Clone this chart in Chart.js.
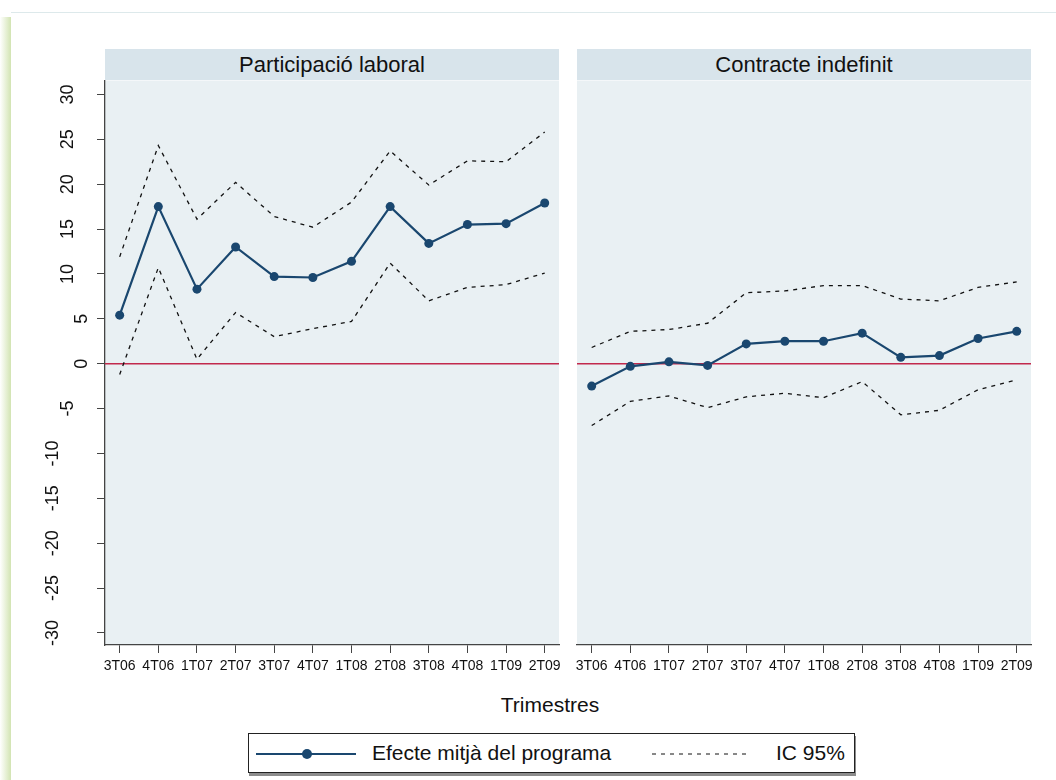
<!DOCTYPE html>
<html lang="ca">
  <head>
    <meta charset="UTF-8" />
    <title>Efecte mitjà del programa</title>
    <script src="https://cdn.jsdelivr.net/npm/chart.js@4.4.0/dist/chart.umd.min.js"></script>
    <style>
      body { margin: 0; background: #fff; font-family: "Liberation Sans", Arial, sans-serif; color: #111; }
      #page { position: relative; width: 1056px; height: 780px; overflow: hidden; }
      .frame { position: absolute; left: 11px; top: 12px; right: 0; bottom: 0; border-top: 1px solid #dde9eb; }
      .shadow { position: absolute; left: 0; top: 17px; width: 11px; bottom: 0;
        background: linear-gradient(to right, rgba(255,255,255,0), rgba(205,225,170,0.9)); }
      .strip { position: absolute; top: 49px; height: 31px; line-height: 31px; background: #d8e4eb;
        text-align: center; font-size: 22px; }
      canvas { position: absolute; }
      .xtitle { position: absolute; left: 450px; width: 200px; top: 693px; text-align: center; font-size: 21px; }
      .legend { position: absolute; left: 248px; top: 733px; width: 605px; height: 38px;
        border: 1px solid #222; box-shadow: 1px 3px 0 #8c8c8c; background: #fff; }
      .legend svg { position: absolute; top: 0; }
      .legend span { position: absolute; top: 7px; font-size: 21px; }
    </style>
  </head>
  <body>
    <div id="page">
      <div class="frame"></div>
      <div class="shadow"></div>
      <div class="strip" style="left:105px;width:454px">Participació laboral</div>
      <div class="strip" style="left:577px;width:454px">Contracte indefinit</div>
      <canvas id="left" width="575" height="604" style="left:0;top:76px"></canvas>
      <canvas id="right" width="495" height="604" style="left:561px;top:76px"></canvas>
      <div class="xtitle">Trimestres</div>
      <div class="legend">
        <svg width="120" height="38" style="left:7px">
          <line x1="0" y1="20" x2="100" y2="20" stroke="#1a476f" stroke-width="2.2" />
          <circle cx="51" cy="20" r="5" fill="#1a476f" />
        </svg>
        <span style="left:123px">Efecte mitjà del programa</span>
        <svg width="100" height="38" style="left:403px">
          <line x1="0" y1="20" x2="96" y2="20" stroke="#111" stroke-width="1" stroke-dasharray="4,5" />
        </svg>
        <span style="left:527px">IC 95%</span>
      </div>
    </div>
    <script>
      // trimestres
      const quarters = ["3T06", "4T06", "1T07", "2T07", "3T07", "4T07", "1T08", "2T08", "3T08", "4T08", "1T09", "2T09"];
      const yTicks = [-30, -25, -20, -15, -10, -5, 0, 5, 10, 15, 20, 25, 30];

      // Participació laboral
      const laboral = [5.4, 17.5, 8.3, 13.0, 9.7, 9.6, 11.4, 17.5, 13.4, 15.5, 15.6, 17.9];
      const laboralHi = [11.9, 24.3, 16.1, 20.2, 16.4, 15.2, 18.0, 23.7, 19.9, 22.6, 22.5, 25.8];
      const laboralLo = [-1.2, 10.7, 0.5, 5.7, 3.0, 3.9, 4.7, 11.2, 7.0, 8.5, 8.8, 10.1];

      // Contracte indefinit
      const indefinit = [-2.5, -0.3, 0.2, -0.2, 2.2, 2.5, 2.5, 3.4, 0.7, 0.9, 2.8, 3.6];
      const indefinitHi = [1.8, 3.6, 3.8, 4.5, 7.9, 8.1, 8.7, 8.7, 7.2, 7.0, 8.5, 9.1];
      const indefinitLo = [-6.9, -4.2, -3.6, -4.9, -3.7, -3.3, -3.8, -2.0, -5.7, -5.2, -2.9, -1.8];

      const navy = "#1a476f";
      const font = "Liberation Sans";

      function pts(vals) {
        return vals.map((v, i) => ({ x: i, y: v }));
      }

      // background of the plot region + red line at zero
      const panelBg = {
        id: "panelBg",
        beforeDraw(chart) {
          const { ctx, chartArea: a } = chart;
          ctx.save();
          ctx.fillStyle = "#e9f0f3";
          ctx.fillRect(a.left, a.top, a.right - a.left, a.bottom - a.top);
          ctx.restore();
        },
        beforeDatasetsDraw(chart) {
          const { ctx, chartArea: a } = chart;
          const y0 = chart.scales.y.getPixelForValue(0);
          ctx.save();
          ctx.strokeStyle = "#c2294c";
          ctx.lineWidth = 1.5;
          ctx.beginPath();
          ctx.moveTo(a.left, y0);
          ctx.lineTo(a.right, y0);
          ctx.stroke();
          ctx.restore();
        },
      };

      // vertical y labels, like the stata export
      const yLabels = {
        id: "yLabels",
        afterDraw(chart) {
          const s = chart.scales.y;
          if (!s.options.display) return;
          const ctx = chart.ctx;
          ctx.save();
          ctx.font = "18px " + font;
          ctx.fillStyle = "#111";
          ctx.textAlign = "center";
          ctx.textBaseline = "middle";
          s.ticks.forEach((t) => {
            const label = String(t.value);
            const x = 97 - 14.5 * label.length;
            ctx.save();
            ctx.translate(x, s.getPixelForValue(t.value));
            ctx.rotate(-Math.PI / 2);
            ctx.fillText(label, 0, 0);
            ctx.restore();
          });
          ctx.restore();
        },
      };

      function makeChart(id, mid, hi, lo, showY, pad) {
        const ctx = document.getElementById(id).getContext("2d");
        return new Chart(ctx, {
          type: "line",
          data: {
            datasets: [
              { data: pts(hi), borderColor: "#111", borderWidth: 1.3, borderDash: [4, 5], pointRadius: 0, fill: false },
              { data: pts(lo), borderColor: "#111", borderWidth: 1.3, borderDash: [4, 5], pointRadius: 0, fill: false },
              {
                data: pts(mid),
                borderColor: navy,
                borderWidth: 2.2,
                pointRadius: 4.5,
                pointBackgroundColor: navy,
                pointBorderWidth: 0,
                fill: false,
              },
            ],
          },
          options: {
            responsive: false,
            animation: false,
            devicePixelRatio: 1,
            layout: { padding: pad },
            plugins: { legend: { display: false }, tooltip: { enabled: false } },
            scales: {
              x: {
                type: "linear",
                min: -0.38,
                max: 11.37,
                afterBuildTicks: (s) => {
                  s.ticks = quarters.map((q, i) => ({ value: i }));
                },
                afterFit: (s) => {
                  s.height = 35;
                },
                grid: { drawOnChartArea: false, drawTicks: true, tickLength: 8, color: "#444", lineWidth: 1 },
                border: { display: true, color: "#444", width: 1.3 },
                ticks: {
                  autoSkip: false,
                  maxRotation: 0,
                  padding: 5,
                  color: "#111",
                  font: { family: font, size: 14 },
                  callback: (v) => quarters[v],
                },
              },
              y: {
                display: showY,
                min: -31.35,
                max: 31.55,
                afterBuildTicks: (s) => {
                  s.ticks = yTicks.map((v) => ({ value: v }));
                },
                afterFit: (s) => {
                  s.width = showY ? 105 : 0;
                },
                grid: { drawOnChartArea: false, drawTicks: true, tickLength: 8, color: "#444", lineWidth: 1 },
                border: { display: true, color: "#444", width: 1.3 },
                ticks: { display: false },
              },
            },
          },
          plugins: [panelBg, yLabels],
        });
      }

      makeChart("left", laboral, laboralHi, laboralLo, true, { left: 0, right: 16, top: 0, bottom: 0 });
      makeChart("right", indefinit, indefinitHi, indefinitLo, false, { left: 16, right: 25, top: 0, bottom: 0 });
    </script>
  </body>
</html>
